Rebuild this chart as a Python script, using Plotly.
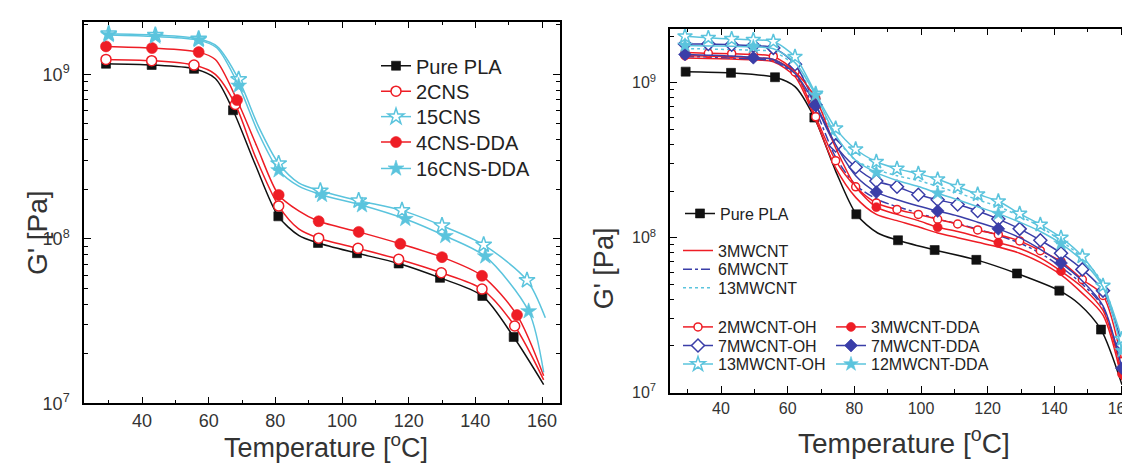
import plotly.graph_objects as go

W, H = 1130, 466
RED = "#ee1d25"
CYAN = "#5bc4dd"
BLUE = "#3a3ea8"
BLACK = "#111111"
CLEAR = "rgba(0,0,0,0)"
FONT = "Liberation Sans, Arial, sans-serif"

# ---------------- Left panel (CNS) ----------------
L_PLA_T = [29.2, 42.9, 55.6, 62.0, 67.3, 74.0, 80.9, 87.0, 92.8, 104.5, 117.0, 129.4, 142.1, 151.5, 160.5]
L_PLA_G = [1.16e9, 1.14e9, 1.08e9, 9.44e8, 6.05e8, 2.82e8, 1.37e8, 1.05e8, 9.44e7, 8.18e7, 7.08e7, 5.79e7, 4.50e7, 2.53e7, 1.30e7]
L_PLA_MT = [29.2, 42.9, 55.6, 67.3, 80.9, 92.8, 104.5, 117.0, 129.4, 142.1, 151.5]

L_2CNS_T = [29.2, 42.9, 55.6, 62.0, 68.0, 74.0, 81.0, 87.0, 93.0, 104.8, 117.0, 129.8, 142.0, 151.8, 160.5]
L_2CNS_G = [1.233e9, 1.211e9, 1.138e9, 1.0e9, 6.56e8, 3.16e8, 1.585e8, 1.148e8, 1.009e8, 8.75e7, 7.52e7, 6.22e7, 4.95e7, 2.95e7, 1.39e7]
L_2CNS_MT = [29.2, 42.9, 55.6, 68.0, 81.0, 93.0, 104.8, 117.0, 129.8, 142.0, 151.8]

L_15CNS_T = [30.0, 44.0, 57.0, 62.5, 69.0, 75.0, 81.0, 87.0, 93.5, 105.0, 118.0, 130.0, 142.5, 155.5, 161.0]
L_15CNS_G = [1.766e9, 1.734e9, 1.644e9, 1.479e9, 9.31e8, 4.79e8, 2.87e8, 2.19e8, 1.959e8, 1.706e8, 1.489e8, 1.202e8, 9.20e7, 5.60e7, 3.31e7]
L_15CNS_MT = [30.0, 44.0, 57.0, 69.0, 81.0, 93.5, 105.0, 118.0, 130.0, 142.5, 155.5]

L_4DDA_T = [29.2, 43.0, 57.0, 62.0, 68.5, 74.5, 81.0, 87.0, 93.0, 105.0, 117.5, 130.0, 142.0, 152.5, 160.5]
L_4DDA_G = [1.479e9, 1.445e9, 1.365e9, 1.23e9, 6.98e8, 3.63e8, 1.849e8, 1.48e8, 1.279e8, 1.102e8, 9.33e7, 7.74e7, 5.96e7, 3.44e7, 1.47e7]
L_4DDA_MT = [29.2, 43.0, 57.0, 68.5, 81.0, 93.0, 105.0, 117.5, 130.0, 142.0, 152.5]

L_16DDA_T = [30.0, 44.0, 57.0, 62.5, 69.0, 75.0, 81.0, 87.0, 94.0, 106.0, 119.0, 131.0, 143.0, 156.0, 160.5]
L_16DDA_G = [1.734e9, 1.698e9, 1.614e9, 1.445e9, 8.53e8, 4.37e8, 2.61e8, 2.09e8, 1.849e8, 1.600e8, 1.321e8, 1.040e8, 7.82e7, 3.63e7, 1.54e7]
L_16DDA_MT = [30.0, 44.0, 57.0, 69.0, 81.0, 94.0, 106.0, 119.0, 131.0, 143.0, 156.0]

# ---------------- Right panel (MWCNT) ----------------
R_PLA_T = [29.4, 43.0, 56.2, 62.2, 68.0, 74.4, 80.6, 87.0, 93.1, 104.1, 116.6, 128.8, 141.5, 147.5, 154.0, 160.3]
R_PLA_G = [1.180e9, 1.159e9, 1.086e9, 9.44e8, 5.96e8, 2.69e8, 1.416e8, 1.072e8, 9.62e7, 8.32e7, 7.19e7, 5.87e7, 4.55e7, 3.72e7, 2.55e7, 1.122e7]
R_PLA_MT = [29.4, 43.0, 56.2, 68.0, 80.6, 93.1, 104.1, 116.6, 128.8, 141.5, 154.0]

R_T = [29.2, 36.2, 43.2, 49.7, 55.7, 62.2, 68.4, 74.4, 80.4, 86.6, 92.8, 99.2, 105.0, 111.0, 117.0, 123.2,
       129.6, 135.8, 142.0, 148.4, 154.6, 160.3]
R_DDA_MT = [29.2, 49.7, 68.4, 86.6, 105.0, 123.2, 142.0, 160.3]

R_3MWCNT_G = [1.445e9, 1.435e9, 1.422e9, 1.406e9, 1.365e9, 1.096e9, 5.75e8, 2.82e8, 1.820e8, 1.413e8, 1.288e8,
              1.175e8, 1.072e8, 1.0e8, 9.33e7, 8.71e7, 7.94e7, 6.92e7, 5.75e7, 4.37e7, 3.16e7, 1.202e7]
R_6MWCNT_G = [1.479e9, 1.466e9, 1.445e9, 1.422e9, 1.380e9, 1.122e9, 6.61e8, 3.31e8, 2.19e8, 1.778e8, 1.585e8,
              1.445e8, 1.318e8, 1.230e8, 1.135e8, 1.035e8, 9.23e7, 7.94e7, 6.46e7, 5.01e7, 3.55e7, 1.380e7]
R_13MWCNT_G = [1.660e9, 1.652e9, 1.637e9, 1.622e9, 1.585e9, 1.288e9, 7.76e8, 4.47e8, 3.16e8, 2.75e8, 2.51e8,
               2.34e8, 2.14e8, 1.950e8, 1.758e8, 1.585e8, 1.380e8, 1.175e8, 9.55e7, 7.41e7, 5.01e7, 2.0e7]
R_2OH_G = [1.567e9, 1.549e9, 1.542e9, 1.524e9, 1.479e9, 1.175e9, 6.03e8, 3.14e8, 2.13e8, 1.675e8, 1.521e8,
           1.413e8, 1.315e8, 1.225e8, 1.122e8, 1.045e8, 9.53e7, 8.24e7, 7.03e7, 5.37e7, 4.24e7, 1.585e7]
R_7OH_G = [1.778e9, 1.778e9, 1.758e9, 1.738e9, 1.679e9, 1.318e9, 7.19e8, 3.94e8, 2.85e8, 2.32e8, 2.13e8,
           1.892e8, 1.758e8, 1.637e8, 1.486e8, 1.318e8, 1.140e8, 9.62e7, 7.94e7, 6.24e7, 4.55e7, 2.04e7]
R_13OH_G = [1.995e9, 1.950e9, 1.919e9, 1.892e9, 1.845e9, 1.472e9, 8.51e8, 5.08e8, 3.72e8, 3.09e8, 2.79e8,
            2.59e8, 2.38e8, 2.13e8, 1.905e8, 1.718e8, 1.429e8, 1.213e8, 1.0e8, 7.57e7, 4.90e7, 2.22e7]
R_3DDA_G = [1.496e9, 1.486e9, 1.472e9, 1.452e9, 1.413e9, 1.175e9, 7.94e8, 3.80e8, 2.14e8, 1.574e8, 1.413e8,
            1.288e8, 1.167e8, 1.096e8, 1.012e8, 9.27e7, 8.51e7, 7.41e7, 6.08e7, 4.79e7, 3.39e7, 1.318e7]
R_7DDA_G = [1.524e9, 1.507e9, 1.486e9, 1.452e9, 1.413e9, 1.148e9, 7.19e8, 3.98e8, 2.51e8, 1.968e8, 1.758e8,
            1.603e8, 1.486e8, 1.380e8, 1.259e8, 1.140e8, 1.0e8, 8.41e7, 6.85e7, 5.25e7, 3.63e7, 1.435e7]
R_12DDA_G = [1.742e9, 1.730e9, 1.718e9, 1.706e9, 1.660e9, 1.349e9, 8.32e8, 4.57e8, 3.16e8, 2.63e8, 2.34e8,
             2.14e8, 1.936e8, 1.758e8, 1.585e8, 1.429e8, 1.259e8, 1.096e8, 9.16e7, 7.08e7, 4.79e7, 1.862e7]

X_TICKS = [40, 60, 80, 100, 120, 140, 160]
X_MINOR = [30, 50, 70, 90, 110, 130, 150]
Y_TICKS = [1e7, 1e8, 1e9]
Y_TEXT = ["10<sup>7</sup>", "10<sup>8</sup>", "10<sup>9</sup>"]
Y_MINOR = [k * 10 ** e for e in (7, 8) for k in range(2, 10)] + [2e9]


def px(x):
    return x / W


def py(y):
    return 1 - y / H


fig = go.Figure()
legends = {}


def add(panel, name, T, G, MT, color, symbol, size, filled, leg_xy, fs, dash="solid"):
    key = "legend" if not legends else "legend%d" % (len(legends) + 1)
    legends[key] = dict(x=px(leg_xy[0]), y=py(leg_xy[1]), xanchor="left", yanchor="middle",
                        bgcolor=CLEAR, borderwidth=0,
                        font=dict(family=FONT, size=fs, color="#222222"))
    marked = set(MT or [])
    fill = color if filled else "white"
    xa, ya = ("x", "y") if panel == 1 else ("x2", "y2")
    fig.add_trace(go.Scatter(
        x=T, y=G, name=name, xaxis=xa, yaxis=ya, legend=key,
        mode="lines+markers" if MT else "lines",
        line=dict(color=color, width=1.5, dash=dash, shape="spline", smoothing=0.8),
        marker=dict(symbol=symbol, size=size,
                    color=[fill if t in marked else CLEAR for t in T],
                    line=dict(color=[color if t in marked else CLEAR for t in T],
                              width=0.6 if filled else 1.5)),
    ))


# left panel traces (legend rows)
add(1, "Pure PLA", L_PLA_T, L_PLA_G, L_PLA_MT, BLACK, "square", 9, True, (368, 59), 20)
add(1, "2CNS", L_2CNS_T, L_2CNS_G, L_2CNS_MT, RED, "circle", 10, False, (368, 85), 20)
add(1, "15CNS", L_15CNS_T, L_15CNS_G, L_15CNS_MT, CYAN, "star", 12, False, (368, 111), 20)
add(1, "4CNS-DDA", L_4DDA_T, L_4DDA_G, L_4DDA_MT, RED, "circle", 11, True, (368, 137), 20)
add(1, "16CNS-DDA", L_16DDA_T, L_16DDA_G, L_16DDA_MT, CYAN, "star", 12, True, (368, 164), 20)

# right panel traces
add(2, "Pure PLA", R_PLA_T, R_PLA_G, R_PLA_MT, BLACK, "square", 9, True, (672, 210), 16)
add(2, "3MWCNT", R_T, R_3MWCNT_G, None, RED, "circle", 0, True, (670, 248), 16)
add(2, "6MWCNT", R_T, R_6MWCNT_G, None, BLUE, "circle", 0, True, (670, 267), 16, dash="dashdot")
add(2, "13MWCNT", R_T, R_13MWCNT_G, None, CYAN, "circle", 0, True, (670, 286), 16, dash="dot")
add(2, "2MWCNT-OH", R_T, R_2OH_G, R_T, RED, "circle", 8, False, (670, 326), 16)
add(2, "7MWCNT-OH", R_T, R_7OH_G, R_T, BLUE, "diamond", 10, False, (670, 345), 16)
add(2, "13MWCNT-OH", R_T, R_13OH_G, R_T, CYAN, "star", 11, False, (670, 364), 16)
add(2, "3MWCNT-DDA", R_T, R_3DDA_G, R_DDA_MT, RED, "circle", 9, True, (823, 326), 16)
add(2, "7MWCNT-DDA", R_T, R_7DDA_G, R_DDA_MT, BLUE, "diamond", 10, True, (823, 345), 16)
add(2, "12MWCNT-DDA", R_T, R_12DDA_G, R_DDA_MT, CYAN, "star", 11, True, (823, 364), 16)


def xax(domain, rng, fs, anchor, standoff):
    return dict(domain=domain, range=rng, anchor=anchor, tickmode="array", tickvals=X_TICKS,
                ticks="inside", ticklen=7, tickwidth=1.2, tickcolor="black",
                showline=True, linecolor="black", linewidth=1.5, mirror="allticks",
                showgrid=False, zeroline=False, ticklabelstandoff=standoff,
                tickfont=dict(family=FONT, size=fs, color="#333333"),
                minor=dict(tickmode="array", tickvals=X_MINOR, ticks="inside", ticklen=4,
                           tickwidth=1.2, tickcolor="black", showgrid=False))


def yax(domain, rng, fs, anchor):
    return dict(domain=domain, range=rng, anchor=anchor, type="log", tickmode="array",
                tickvals=Y_TICKS, ticktext=Y_TEXT,
                ticks="inside", ticklen=7, tickwidth=1.2, tickcolor="black",
                showline=True, linecolor="black", linewidth=1.5, mirror="allticks",
                showgrid=False, zeroline=False, ticklabelstandoff=9,
                tickfont=dict(family=FONT, size=fs, color="#333333"),
                minor=dict(tickmode="array", tickvals=Y_MINOR, ticks="inside", ticklen=4,
                           tickwidth=1.2, tickcolor="black", showgrid=False))


def title(text, x, y, size, angle=0):
    return dict(text=text, x=px(x), y=py(y), xref="paper", yref="paper", showarrow=False,
                xanchor="center", yanchor="middle", textangle=angle,
                font=dict(family=FONT, size=size, color="#333333"))


fig.update_layout(
    width=W, height=H, margin=dict(l=0, r=0, t=0, b=0),
    paper_bgcolor="white", plot_bgcolor="white", showlegend=True,
    font=dict(family=FONT),
    xaxis=xax([px(76), px(552)], [22.6, 165.4], 18, "y", 0),
    yaxis=yax([py(404), py(14)], [7, 9.32], 18, "x"),
    xaxis2=xax([px(662), px(1127)], [24.7, 164.2], 16, "y2", 0),
    yaxis2=yax([py(393), py(21)], [7, 9.35], 16, "x2"),
    annotations=[
        title("G' [Pa]", 29, 230, 28, -90),
        title("G' [Pa]", 596, 266, 27, -90),
        title("Temperature [<sup>o</sup>C]", 318, 448, 27),
        title("Temperature [<sup>o</sup>C]", 896, 442, 28),
    ],
)
fig.update_layout(**legends)

fig.write_html("out.html")
